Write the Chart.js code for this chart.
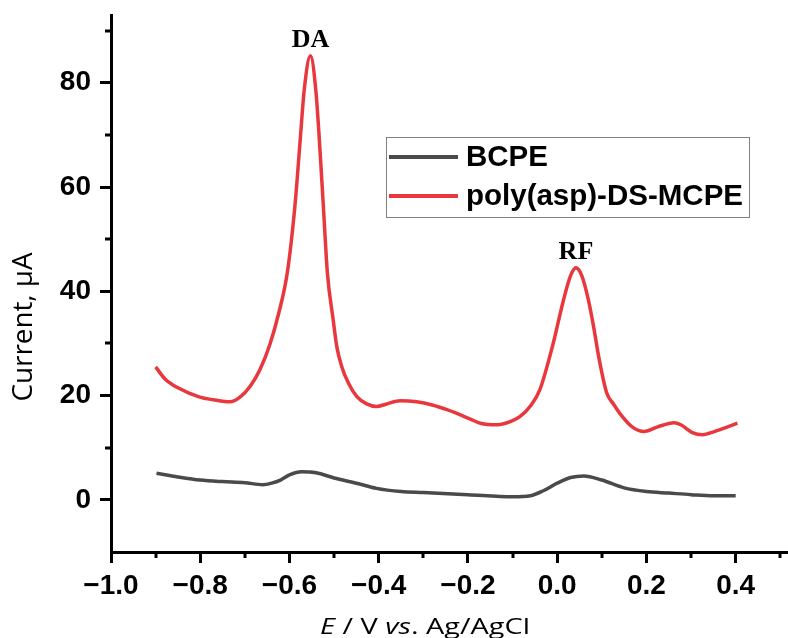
<!DOCTYPE html>
<html>
<head>
<meta charset="utf-8">
<script src="https://cdn.jsdelivr.net/npm/chart.js@4.4.1/dist/chart.umd.min.js"></script>
<style>
	html, body { margin: 0; padding: 0; background: #fff; }
	canvas { display: block; }
</style>
</head>
<body>
<canvas id="main_chart" width="788" height="638"></canvas>
<script>
// series: potential E (V) and current (µA)
const bcpeE = [-0.898, -0.85, -0.80, -0.75, -0.70, -0.66, -0.64, -0.62, -0.60, -0.573, -0.54, -0.50, -0.45, -0.405, -0.35, -0.30, -0.20, -0.10, -0.06, -0.03, 0.00, 0.03, 0.06, 0.10, 0.15, 0.20, 0.25, 0.30, 0.35, 0.40]
const bcpeI = [5.1, 4.4, 3.8, 3.5, 3.3, 2.9, 3.2, 3.8, 4.8, 5.4, 5.2, 4.2, 3.2, 2.2, 1.6, 1.4, 1.0, 0.6, 0.8, 1.8, 3.2, 4.3, 4.6, 3.8, 2.3, 1.6, 1.3, 1.0, 0.8, 0.8]

const polyE = [-0.900, -0.879, -0.850, -0.801, -0.771, -0.733, -0.711, -0.688, -0.666, -0.644, -0.625, -0.605, -0.588, -0.576, -0.567, -0.553, -0.541, -0.533, -0.524, -0.515, -0.502, -0.494, -0.483, -0.468, -0.449, -0.427, -0.405, -0.382, -0.352, -0.315, -0.280, -0.247, -0.200, -0.172, -0.134, -0.100, -0.083, -0.060, -0.039, -0.009, 0.014, 0.030, 0.042, 0.055, 0.070, 0.082, 0.094, 0.111, 0.126, 0.142, 0.168, 0.195, 0.225, 0.262, 0.277, 0.303, 0.326, 0.352, 0.382, 0.404]
const polyI = [25.5, 23.2, 21.5, 19.7, 19.2, 18.8, 19.7, 21.8, 25.0, 29.8, 35.5, 43.5, 56.2, 69.0, 78.6, 85.2, 78.6, 69.0, 56.2, 43.5, 34.5, 29.4, 25.6, 22.4, 19.8, 18.4, 17.9, 18.4, 19.0, 18.8, 18.2, 17.3, 15.7, 14.7, 14.4, 15.2, 16.0, 18.0, 21.1, 30.0, 38.3, 43.0, 44.5, 43.0, 38.3, 33.0, 27.0, 20.5, 18.4, 16.4, 14.0, 13.1, 14.0, 14.8, 14.4, 12.9, 12.5, 13.1, 14.0, 14.7]

const seriesNames = ['BCPE', 'poly(asp)-DS-MCPE']
const seriesColors = ['#4a4a4a', '#e8383d']

// tick values and labels
const xTicks = [-1.0, -0.8, -0.6, -0.4, -0.2, 0.0, 0.2, 0.4]
const xTickLabels = ['\u22121.0', '\u22120.8', '\u22120.6', '\u22120.4', '\u22120.2', '0.0', '0.2', '0.4']
const xMinorTicks = [-0.9, -0.7, -0.5, -0.3, -0.1, 0.1, 0.3, 0.5]
const yTicks = [0, 20, 40, 60, 80]
const yTickLabels = ['0', '20', '40', '60', '80']
const yMinorTicks = [10, 30, 50, 70, 90]

// peak labels
const peakNames = ['DA', 'RF']
const peakE = [-0.553, 0.042]
const peakI = [85.2, 44.5]

const toPoints = (xs, ys) => xs.map((x, i) => ({ x: x, y: ys[i] }))

// extra drawing: minor ticks, legend box, peak labels, axis titles
const decor = {
	id: 'decor',
	afterDraw(chart) {
		const ctx = chart.ctx
		const xs = chart.scales.x
		const ys = chart.scales.y
		const area = chart.chartArea
		ctx.save()
		// minor ticks
		ctx.strokeStyle = '#000'
		ctx.lineWidth = 3
		ctx.beginPath()
		xMinorTicks.forEach(v => {
			const px = Math.round(xs.getPixelForValue(v))
			ctx.moveTo(px, area.bottom)
			ctx.lineTo(px, area.bottom + 6)
		})
		yMinorTicks.forEach(v => {
			const py = Math.round(ys.getPixelForValue(v))
			ctx.moveTo(area.left, py)
			ctx.lineTo(area.left - 6, py)
		})
		ctx.stroke()

		// legend
		const lx = 386, ly = 137, lw = 363, lh = 80
		ctx.fillStyle = '#fff'
		ctx.fillRect(lx, ly, lw, lh)
		ctx.strokeStyle = '#808080'
		ctx.lineWidth = 1
		ctx.strokeRect(lx + 0.5, ly + 0.5, lw, lh)
		ctx.font = 'bold 29.5px "Liberation Sans", Arial, sans-serif'
		ctx.textBaseline = 'middle'
		ctx.textAlign = 'left'
		chart.data.datasets.forEach((ds, i) => {
			const rowY = ly + 20 + i * 39
			ctx.strokeStyle = ds.borderColor
			ctx.lineWidth = 4
			ctx.beginPath()
			ctx.moveTo(lx + 3, rowY)
			ctx.lineTo(lx + 72, rowY)
			ctx.stroke()
			ctx.fillStyle = '#000'
			ctx.fillText(ds.label, lx + 80, rowY + 1)
		})

		// peak labels
		ctx.font = 'bold 26px "Liberation Serif", "Times New Roman", serif'
		ctx.textAlign = 'center'
		ctx.textBaseline = 'alphabetic'
		ctx.fillStyle = '#000'
		peakNames.forEach((name, i) => {
			ctx.fillText(name, xs.getPixelForValue(peakE[i]), ys.getPixelForValue(peakI[i]) - 9)
		})

		// x axis title with italic parts
		const parts = [
			['E', 'italic'],
			[' / V ', 'normal'],
			['vs', 'italic'],
			['. Ag/AgCl', 'normal'],
		]
		const size = 21.5
		const fontFor = style => `${style} ${size}px "Open Sans", sans-serif`
		let total = 0
		parts.forEach(([t, s]) => {
			ctx.font = fontFor(s)
			total += ctx.measureText(t).width
		})
		const stretch = 210 / total
		ctx.save()
		ctx.translate(425 - 105, 634)
		ctx.scale(stretch, 1)
		ctx.textAlign = 'left'
		let cx = 0
		parts.forEach(([t, s]) => {
			ctx.font = fontFor(s)
			ctx.fillText(t, cx, 0)
			cx += ctx.measureText(t).width
		})
		ctx.restore()

		// y axis title
		ctx.save()
		ctx.font = '27px "Open Sans", sans-serif'
		const yTitle = 'Current, \u03bcA'
		const yw = ctx.measureText(yTitle).width
		ctx.translate(32, 327)
		ctx.rotate(-Math.PI / 2)
		ctx.scale(149 / yw, 1)
		ctx.textAlign = 'center'
		ctx.textBaseline = 'alphabetic'
		ctx.fillText(yTitle, 0, 0)
		ctx.restore()

		ctx.restore()
	},
}

const tickFont = { family: '"Liberation Sans", Arial, sans-serif', size: 28, weight: 'bold' }

new Chart(document.getElementById('main_chart'), {
	type: 'line',
	data: {
		datasets: [
			{
				label: seriesNames[0],
				data: toPoints(bcpeE, bcpeI),
				borderColor: seriesColors[0],
				borderWidth: 3.5,
				pointRadius: 0,
				fill: false,
				cubicInterpolationMode: 'monotone',
			},
			{
				label: seriesNames[1],
				data: toPoints(polyE, polyI),
				borderColor: seriesColors[1],
				borderWidth: 3.5,
				pointRadius: 0,
				fill: false,
				cubicInterpolationMode: 'monotone',
			},
		],
	},
	options: {
		responsive: false,
		animation: false,
		layout: { padding: { top: 15, right: 1, left: 0, bottom: 0 } },
		plugins: {
			legend: { display: false },
			tooltip: { enabled: false },
		},
		scales: {
			x: {
				type: 'linear',
				min: -1.0,
				max: 0.515,
				afterBuildTicks: scale => {
					scale.ticks = xTicks.map(v => ({ value: v }))
				},
				afterFit: scale => {
					scale.height = 86
					scale.paddingLeft = 0
					scale.paddingRight = 0
				},
				ticks: {
					callback: (val, i) => xTickLabels[i],
					font: tickFont,
					color: '#000',
					padding: 6,
					maxRotation: 0,
					autoSkip: false,
				},
				grid: {
					drawOnChartArea: false,
					drawTicks: true,
					tickLength: 11,
					tickWidth: 3,
					tickColor: '#000',
				},
				border: { display: true, color: '#000', width: 3 },
			},
			y: {
				type: 'linear',
				min: -10,
				max: 93,
				afterBuildTicks: scale => {
					scale.ticks = yTicks.map(v => ({ value: v }))
				},
				afterFit: scale => {
					scale.width = 111
					scale.paddingTop = 0
					scale.paddingBottom = 0
				},
				ticks: {
					callback: (val, i) => yTickLabels[i],
					font: tickFont,
					color: '#000',
					padding: 9,
					autoSkip: false,
				},
				grid: {
					drawOnChartArea: false,
					drawTicks: true,
					tickLength: 11,
					tickWidth: 3,
					tickColor: '#000',
				},
				border: { display: true, color: '#000', width: 3 },
			},
		},
	},
	plugins: [decor],
})
</script>
</body>
</html>
